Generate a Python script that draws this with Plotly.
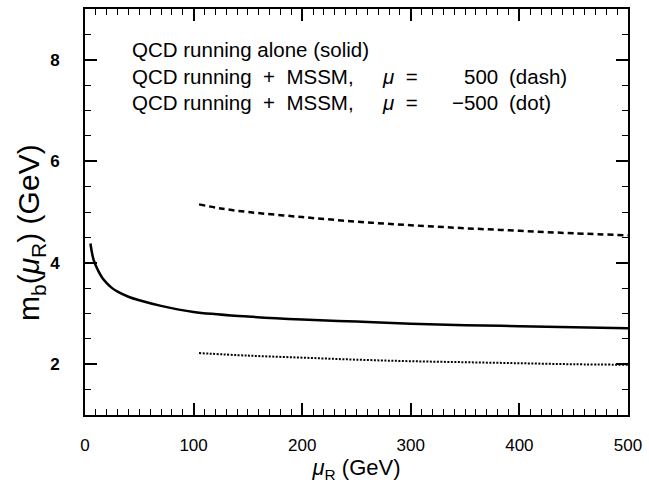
import plotly.graph_objects as go

# Data
mu_solid = [5, 8, 12, 16, 20, 25, 30, 40, 50, 70, 100, 150, 200, 250, 300, 350, 400, 450, 500]
mb_solid = [4.38, 4.05, 3.85, 3.70, 3.60, 3.50, 3.43, 3.33, 3.26, 3.15, 3.03, 2.94, 2.88, 2.84, 2.80, 2.77, 2.75, 2.73, 2.71]

mu_dash = [105, 125, 150, 200, 250, 300, 350, 400, 450, 500]
mb_dash = [5.15, 5.07, 5.00, 4.90, 4.81, 4.74, 4.68, 4.63, 4.58, 4.54]

mu_dot = [105, 150, 200, 250, 300, 350, 400, 450, 500]
mb_dot = [2.22, 2.17, 2.13, 2.09, 2.06, 2.04, 2.02, 2.00, 1.99]

line1_text = "QCD running alone (solid)"
line_prefix = "QCD running \u00a0+\u00a0 MSSM,"
mu_eq = "<i>\u03bc</i> \u00a0="
values = ["500", "\u2212500"]
styles = ["(dash)", "(dot)"]
legend_y = [8.2, 7.67, 7.16]

FONT = "Liberation Sans"
LEG = dict(family=FONT, size=20.5, color="black")

fig = go.Figure()
fig.add_trace(go.Scatter(x=mu_solid, y=mb_solid, mode="lines",
                         line=dict(color="black", width=2.5, shape="spline")))
fig.add_trace(go.Scatter(x=mu_dash, y=mb_dash, mode="lines",
                         line=dict(color="black", width=2.5, dash="6px,4px", shape="spline")))
fig.add_trace(go.Scatter(x=mu_dot, y=mb_dot, mode="lines",
                         line=dict(color="black", width=2, dash="2px,1.5px", shape="spline")))

def ann(x, y, text, anchor="left"):
    fig.add_annotation(x=x, y=y, xref="x", yref="y", text=text, showarrow=False,
                       xanchor=anchor, yanchor="middle", font=LEG)

ann(41, legend_y[0], line1_text)
for i in range(2):
    yy = legend_y[i + 1]
    ann(41, yy, line_prefix)
    ann(272, yy, mu_eq)
    ann(382, yy, values[i], anchor="right")
    ann(389, yy, styles[i])

axis_common = dict(
    showgrid=False, zeroline=False, showline=True, linecolor="black", linewidth=2,
    mirror="allticks", ticks="inside", ticklen=12, tickwidth=1.5, tickcolor="black",
)

fig.update_xaxes(range=[0, 500], tick0=0, dtick=100,
                 minor=dict(ticks="inside", dtick=10, ticklen=6, tickwidth=1, tickcolor="black"),
                 ticklabelstandoff=14,
                 tickfont=dict(family=FONT, size=17, color="black"),
                 title=dict(text="<i>\u03bc</i><sub>R</sub> (GeV)", font=dict(family=FONT, size=22, color="black"),
                            standoff=4),
                 **axis_common)
fig.update_yaxes(range=[1, 9], tick0=0, dtick=2,
                 minor=dict(ticks="inside", dtick=0.5, ticklen=6, tickwidth=1, tickcolor="black"),
                 ticklabelstandoff=20,
                 tickfont=dict(family=FONT, size=17, color="black", weight="bold"),
                 **axis_common)

fig.add_annotation(x=-0.1, y=0.45, xref="paper", yref="paper",
                   text="m<sub>b</sub>(<i>\u03bc</i><sub>R</sub>) (GeV)", textangle=-90,
                   showarrow=False, xanchor="center", yanchor="middle",
                   font=dict(family=FONT, size=30, color="black"))

fig.update_layout(
    width=649, height=489,
    margin=dict(l=85, r=16, t=7, b=74),
    plot_bgcolor="white", paper_bgcolor="white",
    showlegend=False,
)

fig.write_html("out.html")
